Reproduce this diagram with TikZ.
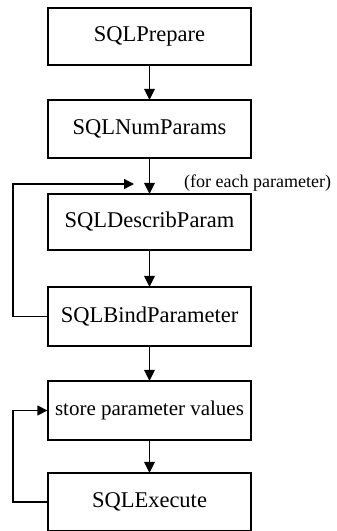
\documentclass[tikz,border=0pt]{standalone}
\usepackage{fontspec}
\setmainfont{Liberation Serif}
\usetikzlibrary{arrows.meta}
\begin{document}
\begin{tikzpicture}[x=1pt,y=-1pt,
  stepbox/.style={draw, line width=1.3pt, minimum width=203pt, inner sep=0pt,
    font=\fontsize{22.5}{26}\selectfont},
  flow/.style={line width=1.8pt, -{Triangle[length=11pt,width=10.5pt]}, shorten >=-0.5pt},
  back/.style={line width=1.3pt, -{Triangle[length=10pt,width=10pt]}}]
\useasboundingbox (0,0) rectangle (337,531);
\clip (0,0) rectangle (337,531);
% main chain of calls
\node[stepbox, minimum height=57pt] (prep) at (149.5,36.5) {SQLPrepare};
\node[stepbox, minimum height=58pt] (num) at (149.5,129) {SQLNumParams};
\node[stepbox, minimum height=56pt] (desc) at (149.5,222) {SQLDescribParam};
\node[stepbox, minimum height=59pt] (bind) at (149.5,316.5) {SQLBindParameter};
\node[stepbox, minimum height=59pt, font=\fontsize{21}{24}\selectfont] (store) at (149.5,410.5) {store parameter values};
\node[stepbox, minimum height=58pt] (exec) at (149.5,502) {SQLExecute};
\draw[flow] (prep) -- (num);
\draw[flow] (num) -- (desc);
\draw[flow] (desc) -- (bind);
\draw[flow] (bind) -- (store);
\draw[flow] (store) -- (exec);
% per-parameter loop
\coordinate (loopin) at (134,184);
\node[anchor=west, inner sep=0pt, font=\fontsize{18}{21}\selectfont] (each) at (184,183) {(for each parameter)};
\draw[back] (bind.west) -- (13,316.5) |- (loopin);
% repeated execution loop
\draw[back] (exec.west) -- (13,502) |- (store.west);
\end{tikzpicture}
\end{document}
